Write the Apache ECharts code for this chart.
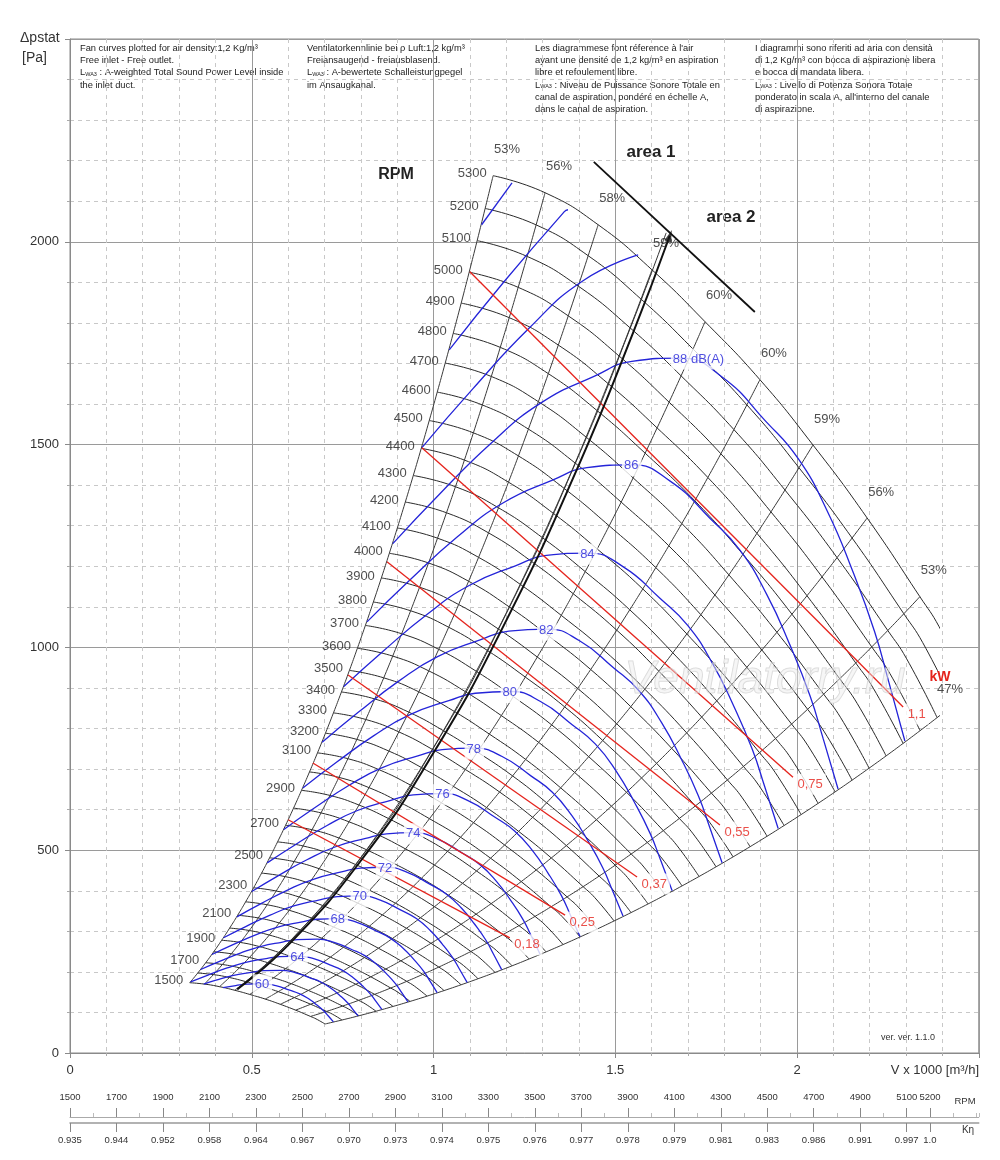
<!DOCTYPE html>
<html><head><meta charset="utf-8">
<script src="https://cdn.jsdelivr.net/npm/echarts@6/dist/echarts.min.js"></script>
<style>html,body{margin:0;padding:0;background:#fff}#c{width:1000px;height:1160px}</style>
</head><body><div id="c"></div>
<script>
// ---------- data ----------
const xTickLabels = [0, 0.5, 1, 1.5, 2];
const yTickLabels = [0, 500, 1000, 1500, 2000];

// fan speeds drawn (one characteristic per 100 rpm) and the ones that carry a label
const rpmList = [1500,1600,1700,1800,1900,2000,2100,2200,2300,2400,2500,2600,2700,2800,2900,3000,3100,3200,3300,3400,3500,3600,3700,3800,3900,4000,4100,4200,4300,4400,4500,4600,4700,4800,4900,5000,5100,5200,5300];
const rpmLabeled = [1500,1700,1900,2100,2300,2500,2700,2900,3100,3200,3300,3400,3500,3600,3700,3800,3900,4000,4100,4200,4300,4400,4500,4600,4700,4800,4900,5000,5100,5200,5300];

// 5300 rpm characteristic [V x1000 m3/h, Pa]; the others follow the fan affinity laws
const baseRpm = 5300;
const baseCurve = [[1.164,2163],[1.307,2121],[1.453,2042],[1.601,1931],[1.747,1803],[1.898,1660],[2.044,1499],[2.193,1319],[2.338,1125],[2.391,1051],[2.479,893]];
const flowLimit = 2.39;   // characteristics end at this flow

// efficiency lines: their point on the 5300 rpm characteristic and their labels
const effTop = [[1.164,2163],[1.307,2121],[1.453,2042],[1.601,1931],[1.747,1803],[1.898,1660],[2.044,1499],[2.193,1319],[2.338,1125],[2.479,893]];
const effLabels = ['53%','56%','58%','59%','60%','60%','59%','56%','53%','47%'];

// sound power curves: shape of the 86 dB(A) curve and size of each curve relative to it
const dbBase = [[0.817,1063],[0.935,1166],[1.065,1272],[1.191,1356],[1.329,1413],[1.422,1443],[1.546,1450],[1.651,1410],[1.761,1318],[1.843,1240],[1.917,1130],[1.981,1005],[2.036,880],[2.072,775],[2.113,651]];
const dbPeakIndex = 6;
const dbLevels = [60,62,64,66,68,70,72,74,76,78,80,82,84,86,88,90,92,94];
const dbScale  = [0.343,0.375,0.406,0.440,0.478,0.517,0.562,0.612,0.664,0.720,0.784,0.849,0.922,1,1.087,1.185,1.277,1.386];
const dbTags   = ['60','','64','','68','70','72','74','76','78','80','82','84','86','88 dB(A)','','',''];
const dbClipStart = {60:[0.421,161], 62:[0.368,170]};          // where they enter over the 1500 rpm curve
const dbClipEnd   = {90:[1.563,1968], 92:[1.370,2079], 94:[1.216,2145]}; // where they meet the 5300 rpm curve

// absorbed power lines [kW]
const kwTags  = ['0,18','0,25','0,37','0,55','0,75','1,1'];
const kwStart = [[0.600,575],[0.668,715],[0.765,932],[0.872,1211],[0.968,1492],[1.100,1926]];
const kwEnd   = [[1.210,284],[1.362,340],[1.560,434],[1.788,562],[1.989,680],[2.292,853]];

// area limit curve (double line) and the area 1 / area 2 divider
const areaCurveMain = [[0.46,157],[0.6,266],[0.8,474],[1.0,740],[1.2,1066],[1.4,1450],[1.55,1778],[1.65,2015]];
const areaCurveThin = [[0.46,159],[0.6,271],[0.8,481],[1.0,752],[1.2,1083],[1.4,1474],[1.55,1807],[1.64,2022]];
const areaDivider   = [[1.441,2197],[1.884,1827]];

// bottom scales
const rpmScaleTicks = [1500,1700,1900,2100,2300,2500,2700,2900,3100,3300,3500,3700,3900,4100,4300,4500,4700,4900,5100,5200];
const ketaTicks = ['0.935','0.944','0.952','0.958','0.964','0.967','0.970','0.973','0.974','0.975','0.976','0.977','0.978','0.979','0.981','0.983','0.986','0.991','0.997','1.0'];

// ---------- chart ----------
const FONT = 'Liberation Sans, Arial, sans-serif';
const BLUE = '#2424d8', RED = '#e5231c';
const scaleRpm = (pt, n) => [pt[0] * n / baseRpm, pt[1] * (n / baseRpm) * (n / baseRpm)];

const series = [];
// fan characteristics (clipped grid)
rpmList.forEach(n => series.push({
  type: 'line', xAxisIndex: 1, yAxisIndex: 1, data: baseCurve.map(p => scaleRpm(p, n)),
  smooth: true, symbol: 'none', silent: true, z: 2, lineStyle: { color: '#2a2a2a', width: 1 }
}));
// efficiency lines
effTop.forEach(pt => series.push({
  type: 'line', xAxisIndex: 1, yAxisIndex: 1, data: rpmList.map(n => scaleRpm(pt, n)),
  smooth: true, symbol: 'none', silent: true, z: 2, lineStyle: { color: '#3a3a3a', width: 1 }
}));
// dB curves
dbLevels.forEach((lv, i) => {
  const s = dbScale[i];
  let pts = dbBase.map(p => [p[0] * s, p[1] * s * s]);
  if (dbClipStart[lv]) pts = [dbClipStart[lv]].concat(pts.filter(p => p[0] > dbClipStart[lv][0]));
  if (dbClipEnd[lv]) pts = pts.filter(p => p[0] < dbClipEnd[lv][0]).concat([dbClipEnd[lv]]);
  series.push({ type: 'line', data: pts, smooth: true, symbol: 'none', silent: true, z: 3,
    lineStyle: { color: BLUE, width: 1.3 } });
});
// kW lines
kwTags.forEach((t, i) => series.push({ type: 'line', data: [kwStart[i], kwEnd[i]], symbol: 'none', silent: true, z: 3,
  lineStyle: { color: RED, width: 1.3 } }));
// area curve
series.push({ type: 'line', data: areaCurveThin, smooth: true, symbol: 'none', silent: true, z: 4, lineStyle: { color: '#333', width: 1 } });
series.push({ type: 'line', data: areaCurveMain, smooth: true, symbol: 'none', silent: true, z: 4, lineStyle: { color: '#111', width: 2 } });
series.push({ type: 'line', data: areaDivider, symbol: 'none', silent: true, z: 4, lineStyle: { color: '#111', width: 1.8 } });
series.push({ type: 'scatter', data: [areaCurveMain[areaCurveMain.length - 1]], symbol: 'triangle', symbolSize: [7, 12],
  symbolRotate: -20, itemStyle: { color: '#111' }, z: 5, silent: true });

const hidden = { color: 'rgba(0,0,0,0)' };
// rpm labels
series.push({ type: 'scatter', symbolSize: 1, itemStyle: hidden, z: 6, silent: true,
  data: rpmLabeled.map(n => ({ value: scaleRpm(baseCurve[0], n), name: String(n) })),
  label: { show: true, position: 'left', distance: 6, offset: [0, -2], formatter: '{b}', fontSize: 13, color: '#222', fontFamily: FONT } });
// efficiency labels
series.push({ type: 'scatter', symbolSize: 1, itemStyle: hidden, z: 6, silent: true,
  data: effTop.map((pt, i) => ({ value: pt, name: effLabels[i],
    label: { offset: i === effTop.length - 1 ? [-21, -1] : [14, -26] } })),
  label: { show: true, position: 'inside', formatter: '{b}', fontSize: 13, color: '#222', fontFamily: FONT } });
// dB labels
series.push({ type: 'scatter', symbolSize: 1, itemStyle: hidden, z: 7, silent: true,
  data: dbLevels.map((lv, i) => dbTags[i] ? { value: [dbBase[dbPeakIndex][0] * dbScale[i], dbBase[dbPeakIndex][1] * dbScale[i] * dbScale[i]], name: dbTags[i] } : null).filter(Boolean),
  label: { show: true, position: 'inside', align: 'left', offset: [-10, 1], formatter: '{b}', fontSize: 13, color: BLUE, fontFamily: FONT,
    backgroundColor: '#fff', padding: [4, 3, 4, 2] } });
// kW labels
series.push({ type: 'scatter', symbolSize: 1, itemStyle: hidden, z: 7, silent: true,
  data: kwEnd.map((pt, i) => ({ value: pt, name: kwTags[i] })),
  label: { show: true, position: 'right', distance: 2, offset: [0, 7], formatter: '{b}', fontSize: 13, color: RED, fontFamily: FONT,
    backgroundColor: '#fff', padding: [3, 3, 5, 2] } });

const mainAxisCommon = {
  axisLine: { show: true, lineStyle: { color: '#8a8a8a', width: 1 } },
  axisTick: { show: true, length: 5, lineStyle: { color: '#8a8a8a' } },
  minorTick: { show: true, splitNumber: 5, length: 3, lineStyle: { color: '#aaa' } },
  splitLine: { show: true, lineStyle: { color: '#9a9a9a', width: 1 } },
  minorSplitLine: { show: true, lineStyle: { color: '#c8c8c8', width: 1, type: [4, 4] } }
};

const option = {
  animation: false,
  backgroundColor: '#fff',
  grid: [
    { left: 70, top: 39, width: 908.75, height: 1014, show: true, borderColor: '#8a8a8a', borderWidth: 1 },
    { left: 70, top: 39, width: 908.75 * flowLimit / 2.5, height: 1014 },
    { left: 70, top: 1080, width: 908.75, height: 37 },
    { left: 70, top: 1095, width: 908.75, height: 28 }
  ],
  xAxis: [
    Object.assign({ type: 'value', gridIndex: 0, min: 0, max: 2.5, interval: 0.5,
      axisLabel: { fontSize: 13, color: '#333', fontFamily: FONT, margin: 11,
        formatter: v => xTickLabels.indexOf(v) >= 0 ? String(v) : '' } }, mainAxisCommon),
    { type: 'value', gridIndex: 1, min: 0, max: flowLimit, show: false },
    { type: 'value', gridIndex: 2, min: 1500, max: 5410, interval: 100, position: 'bottom',
      axisLine: { show: true, lineStyle: { color: '#aaa' } },
      axisTick: { show: true, inside: true, length: 4, lineStyle: { color: '#bbb' } },
      axisLabel: { show: false }, splitLine: { show: false } },
    { type: 'value', gridIndex: 2, min: 1500, max: 5410, position: 'bottom',
      axisLine: { show: false },
      axisTick: { show: true, inside: true, length: 9, customValues: rpmScaleTicks, lineStyle: { color: '#888' } },
      axisLabel: { show: true, inside: true, margin: 15, customValues: rpmScaleTicks, fontSize: 9.5, color: '#333',
        fontFamily: 'Liberation Sans Narrow, Liberation Sans, Arial', formatter: v => String(v) },
      splitLine: { show: false } },
    { type: 'value', gridIndex: 3, min: 1500, max: 5410, position: 'bottom',
      axisLine: { show: true, lineStyle: { color: '#999', width: 1.5 } },
      axisTick: { show: true, length: 9, customValues: rpmScaleTicks, lineStyle: { color: '#888' } },
      axisLabel: { show: true, margin: 12, customValues: rpmScaleTicks, fontSize: 9.5, color: '#333',
        fontFamily: 'Liberation Sans Narrow, Liberation Sans, Arial',
        formatter: v => { const k = rpmScaleTicks.indexOf(v); return k >= 0 ? ketaTicks[k] : ''; } },
      splitLine: { show: false } }
  ],
  yAxis: [
    Object.assign({ type: 'value', gridIndex: 0, min: 0, max: 2500, interval: 500,
      axisLabel: { fontSize: 13, color: '#333', fontFamily: FONT, margin: 11,
        formatter: v => yTickLabels.indexOf(v) >= 0 ? String(v) : '' } }, mainAxisCommon),
    { type: 'value', gridIndex: 1, min: 0, max: 2500, show: false },
    { type: 'value', gridIndex: 2, show: false },
    { type: 'value', gridIndex: 3, show: false }
  ],
  series: series,
  graphic: [
    { type: 'text', left: 20, top: 31, style: { text: 'Δpstat', font: '14px ' + FONT, fill: '#333' } },
    { type: 'text', left: 22, top: 51, style: { text: '[Pa]', font: '14px ' + FONT, fill: '#333' } },
    { type: 'text', right: 21, top: 1064, style: { text: 'V x 1000 [m³/h]', font: '13px ' + FONT, fill: '#333' } },
    { type: 'text', left: 80, top: 42, style: { text: 'Fan curves plotted for air density:1,2 Kg/m³\nFree inlet - Free outlet.\nL{s|WA3} : A-weighted Total Sound Power Level inside\nthe inlet duct.',
      fontSize: 9.3, fontFamily: FONT, fill: '#222', lineHeight: 12.3, rich: { s: { fontSize: 5.5, fontFamily: FONT, fill: '#222', lineHeight: 12.3, padding: [3, 0, 0, 0] } } } },
    { type: 'text', left: 307, top: 42, style: { text: 'Ventilatorkennlinie bei ρ Luft:1,2 kg/m³\nFreiansaugend - freiausblasend.\nL{s|WA3} : A-bewertete Schalleistungpegel\nim Ansaugkanal.',
      fontSize: 9.3, fontFamily: FONT, fill: '#222', lineHeight: 12.3, rich: { s: { fontSize: 5.5, fontFamily: FONT, fill: '#222', lineHeight: 12.3, padding: [3, 0, 0, 0] } } } },
    { type: 'text', left: 535, top: 42, style: { text: "Les diagrammese font réference à l'air\nayant une densité de 1,2 kg/m³ en aspiration\nlibre et refoulement libre.\nL{s|WA3} : Niveau de Puissance Sonore Totale en\ncanal de aspiration, pondéré en échelle A,\ndans le canal de aspiration.",
      fontSize: 9.3, fontFamily: FONT, fill: '#222', lineHeight: 12.3, rich: { s: { fontSize: 5.5, fontFamily: FONT, fill: '#222', lineHeight: 12.3, padding: [3, 0, 0, 0] } } } },
    { type: 'text', left: 755, top: 42, style: { text: "I diagrammi sono riferiti ad aria con densità\ndi 1,2 Kg/m³ con bocca di aspirazione libera\ne bocca di mandata libera.\nL{s|WA3} : Livello di Potenza Sonora Totale\nponderato in scala A, all'interno del canale\ndi aspirazione.",
      fontSize: 9.3, fontFamily: FONT, fill: '#222', lineHeight: 12.3, rich: { s: { fontSize: 5.5, fontFamily: FONT, fill: '#222', lineHeight: 12.3, padding: [3, 0, 0, 0] } } } },
    { type: 'text', x: 396, y: 175, style: { text: 'RPM', font: 'bold 16px ' + FONT, fill: '#222', align: 'center', verticalAlign: 'middle' } },
    { type: 'text', x: 651, y: 152, style: { text: 'area 1', font: 'bold 17px ' + FONT, fill: '#222', align: 'center', verticalAlign: 'middle' } },
    { type: 'text', x: 731, y: 217, style: { text: 'area 2', font: 'bold 17px ' + FONT, fill: '#222', align: 'center', verticalAlign: 'middle' } },
    { type: 'text', x: 940, y: 677, z: 100, style: { text: 'kW', font: 'bold 14px ' + FONT, fill: RED, align: 'center', verticalAlign: 'middle' } },
    { type: 'text', x: 935, y: 1038, style: { text: 'ver. ver. 1.1.0', font: '9px ' + FONT, fill: '#333', align: 'right', verticalAlign: 'middle' } },
    { type: 'text', x: 965, y: 1101, style: { text: 'RPM', font: '9.5px Liberation Sans Narrow, ' + FONT, fill: '#333', align: 'center', verticalAlign: 'middle' } },
    { type: 'text', x: 968, y: 1130, style: { text: 'Kη', font: '10px ' + FONT, fill: '#333', align: 'center', verticalAlign: 'middle' } },
    { type: 'text', x: 765, y: 680, z: 50, style: { text: 'Ventilatorry.ru', font: 'italic 46px ' + FONT, fill: 'rgba(235,235,235,0.45)', stroke: 'rgba(185,185,185,0.55)', lineWidth: 1, align: 'center', verticalAlign: 'middle' } }
  ]
};

const chart = echarts.init(document.getElementById('c'), null, { renderer: 'canvas' });
chart.setOption(option);
</script></body></html>
